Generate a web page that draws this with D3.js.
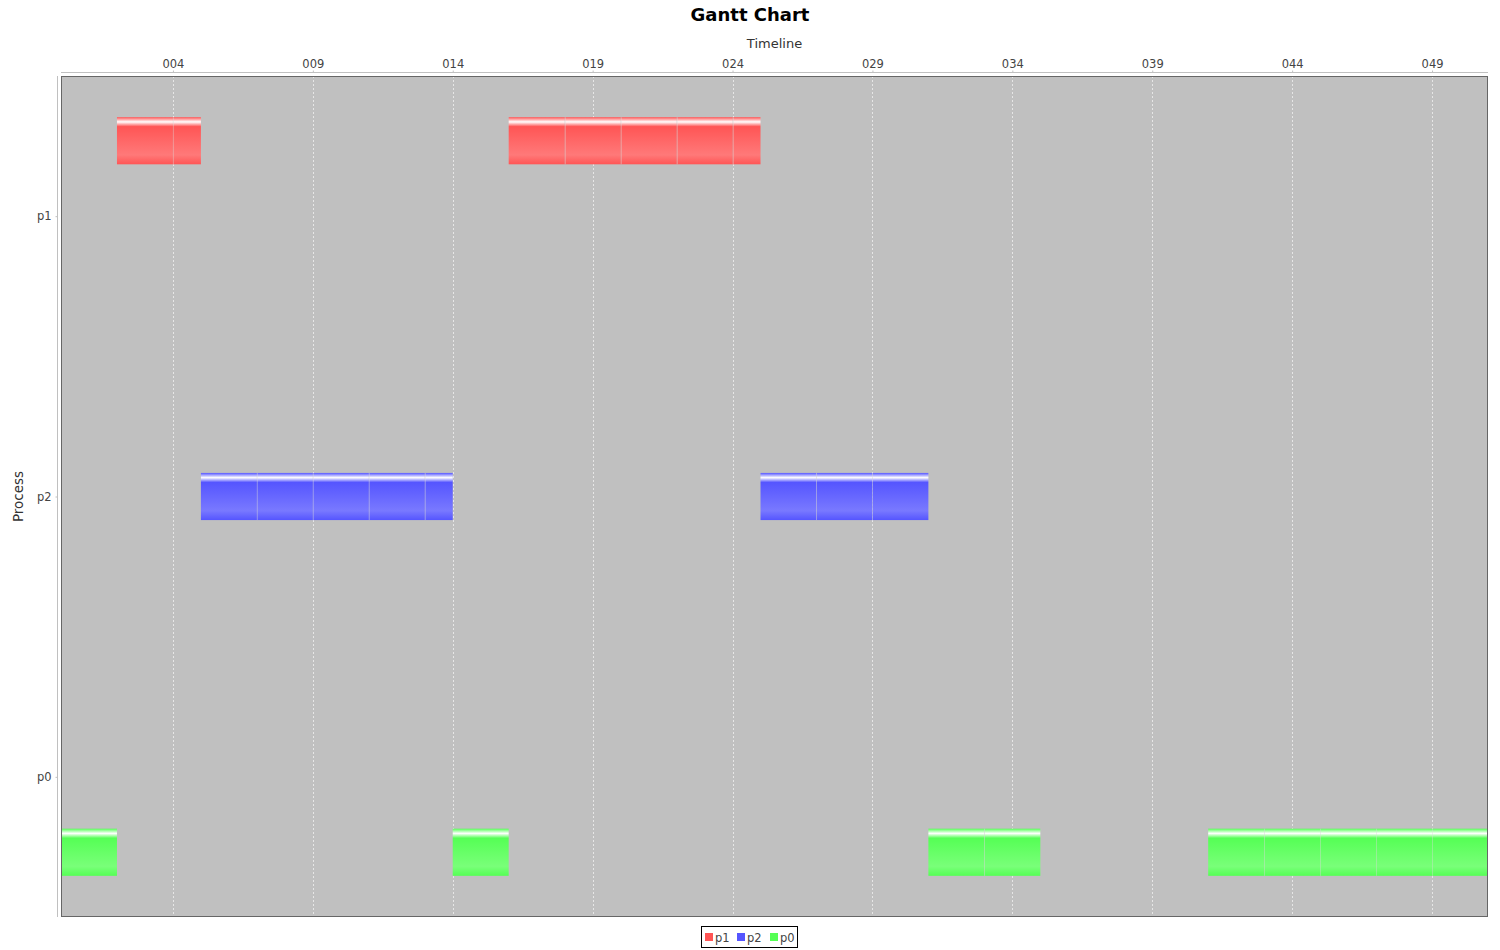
<!DOCTYPE html>
<html>
<head>
<meta charset="utf-8">
<script src="https://cdn.jsdelivr.net/npm/d3@7/dist/d3.min.js"></script>
<style>
  html, body { margin: 0; padding: 0; background: #ffffff; }
  svg { display: block; }
  text { font-family: "DejaVu Sans", sans-serif; }
</style>
</head>
<body>
<svg id="chart" width="1500" height="950"></svg>
<script>
// ---- data ----
const categories = ["p1", "p2", "p0"];          // rows (top to bottom)
const seriesNames = ["p1", "p2", "p0"];         // legend / series order
const seriesColors = ["#ff5555", "#5555ff", "#55ff55"];
const xTicks = [4, 9, 14, 19, 24, 29, 34, 39, 44, 49];
const xDomain = [0, 51];
// sub-task segments [start, end] per process
const p1Segments = [[2, 4], [4, 5], [16, 18], [18, 20], [20, 22], [22, 24], [24, 25]];
const p2Segments = [[5, 7], [7, 9], [9, 11], [11, 13], [13, 14], [25, 27], [27, 29], [29, 31]];
const p0Segments = [[0, 2], [14, 16], [31, 33], [33, 35], [41, 43], [43, 45], [45, 47], [47, 49], [49, 51]];
const segmentsBySeries = { p1: p1Segments, p2: p2Segments, p0: p0Segments };

const title = "Gantt Chart";
const xLabel = "Timeline";
const yLabel = "Process";

// ---- layout ----
const W = 1500, H = 950;
const plot = { left: 61, right: 1488, top: 76, bottom: 917 };

const svg = d3.select("#chart");

const x = d3.scaleLinear().domain(xDomain).range([plot.left, plot.right]);
const y = d3.scalePoint().domain(categories).range([plot.top, plot.bottom]).padding(0.5);
const inner = d3.scaleBand().domain(seriesNames).range([-99, 99]).paddingInner(0.375).paddingOuter(0);
const color = d3.scaleOrdinal().domain(seriesNames).range(seriesColors);

// gradients (JFreeChart-like GradientBarPainter)
const defs = svg.append("defs");
function brighter(c) {
  const r = d3.rgb(c);
  return d3.rgb(Math.min(255, r.r / 0.7), Math.min(255, r.g / 0.7), Math.min(255, r.b / 0.7)).formatHex();
}
seriesNames.forEach(s => {
  const c0 = color(s), c1 = brighter(c0);
  const g = defs.append("linearGradient").attr("id", "grad-" + s)
    .attr("x1", 0).attr("y1", 0).attr("x2", 0).attr("y2", 1);
  [[0, c0], [0.10, "#ffffff"], [0.20, c0], [0.80, c1], [1, c0]].forEach(([o, c]) =>
    g.append("stop").attr("offset", o).attr("stop-color", c));
});

// plot background
svg.append("rect")
  .attr("x", plot.left).attr("y", plot.top)
  .attr("width", plot.right - plot.left).attr("height", plot.bottom - plot.top)
  .attr("fill", "#c0c0c0");

// gridlines
svg.append("g").selectAll("line").data(xTicks).join("line")
  .attr("x1", d => Math.round(x(d)) + 0.5).attr("x2", d => Math.round(x(d)) + 0.5)
  .attr("y1", plot.top).attr("y2", plot.bottom)
  .attr("stroke", "#e6e6e6").attr("stroke-width", 1).attr("stroke-dasharray", "2,2");

// bars
const barsG = svg.append("g");
seriesNames.forEach(s => {
  const segs = segmentsBySeries[s];
  const yTop = y(s) + inner(s);
  const bh = inner.bandwidth();
  barsG.append("g").selectAll("rect").data(segs).join("rect")
    .attr("x", d => x(d[0]))
    .attr("y", yTop)
    .attr("width", d => x(d[1]) - x(d[0]))
    .attr("height", bh)
    .attr("fill", "url(#grad-" + s + ")");
  // sub-task boundaries
  const bounds = segs.filter((d, i) => i > 0 && segs[i - 1][1] === d[0]).map(d => d[0]);
  barsG.append("g").selectAll("line").data(bounds).join("line")
    .attr("x1", d => Math.round(x(d)) + 0.5).attr("x2", d => Math.round(x(d)) + 0.5)
    .attr("y1", yTop).attr("y2", yTop + bh)
    .attr("stroke", "rgba(220,220,220,0.35)").attr("stroke-width", 1);
});

// plot border
svg.append("rect")
  .attr("x", plot.left + 0.5).attr("y", plot.top + 0.5)
  .attr("width", plot.right - plot.left - 1).attr("height", plot.bottom - plot.top - 1)
  .attr("fill", "none").attr("stroke", "#666666").attr("stroke-width", 1);

// top x axis
const xAxisY = 72;
const xAxis = d3.axisTop(x).tickValues(xTicks).tickFormat(d3.format("03d")).tickSize(2).tickPadding(3);
const gx = svg.append("g").attr("transform", `translate(0,${xAxisY + 0.5})`).call(xAxis);
gx.select(".domain").attr("stroke", "#c0c0c0").attr("d", `M${plot.left},0H${plot.right}`);
gx.selectAll(".tick line").attr("stroke", "#c0c0c0");
gx.selectAll(".tick text").attr("fill", "#444444").attr("font-size", 11.5)
  .attr("font-family", "DejaVu Sans, sans-serif");

// left y axis
const yAxisX = 57;
const yAxis = d3.axisLeft(y).tickSize(2).tickPadding(4);
const gy = svg.append("g").attr("transform", `translate(${yAxisX + 0.5},0)`).call(yAxis);
gy.select(".domain").attr("stroke", "#c0c0c0").attr("d", `M0,${plot.top}V${plot.bottom}`);
gy.selectAll(".tick line").attr("stroke", "#c0c0c0");
gy.selectAll(".tick text").attr("fill", "#444444").attr("font-size", 11.5)
  .attr("font-family", "DejaVu Sans, sans-serif");

// title
svg.append("text").attr("x", W / 2).attr("y", 21)
  .attr("text-anchor", "middle").attr("font-size", 18).attr("font-weight", "bold")
  .attr("fill", "#000000").text(title);

// axis labels
svg.append("text").attr("x", (plot.left + plot.right) / 2).attr("y", 47.5)
  .attr("text-anchor", "middle").attr("font-size", 13).attr("fill", "#333333").text(xLabel);
svg.append("text")
  .attr("transform", `translate(23,${(plot.top + plot.bottom) / 2}) rotate(-90)`)
  .attr("text-anchor", "middle").attr("font-size", 13.5).attr("fill", "#333333").text(yLabel);

// legend
const legend = svg.append("g");
const itemX = [705, 737, 770];
const lgItems = legend.selectAll("g").data(seriesNames).join("g")
  .attr("transform", (d, i) => `translate(${itemX[i]},933)`);
lgItems.append("rect").attr("width", 8).attr("height", 8).attr("fill", d => color(d));
lgItems.append("text").attr("x", 10).attr("y", 8.5).attr("font-size", 11.5)
  .attr("fill", "#444444").text(d => d);
legend.append("rect").attr("x", 701.5).attr("y", 926.5).attr("width", 96).attr("height", 21)
  .attr("fill", "none").attr("stroke", "#000000").attr("stroke-width", 1);
</script>
</body>
</html>
